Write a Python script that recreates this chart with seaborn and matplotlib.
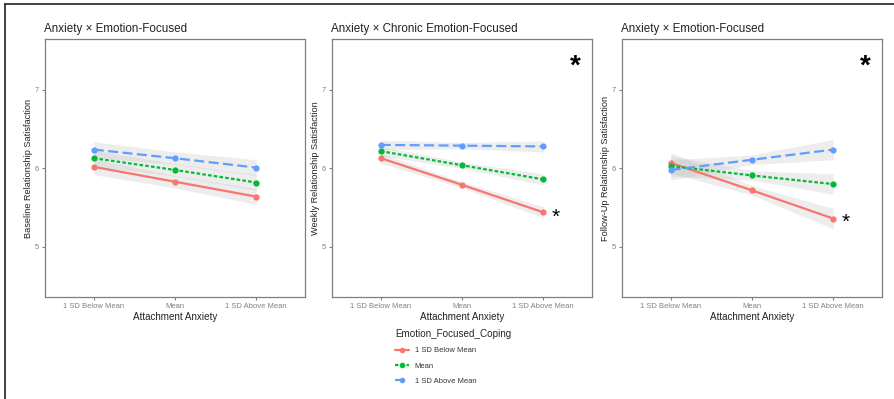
import numpy as np
import pandas as pd
import matplotlib.pyplot as plt
import matplotlib.lines as mlines
import seaborn as sns

# x categories and coping levels
anxiety_levels = ['1 SD Below Mean', 'Mean', '1 SD Above Mean']
coping_levels = ['1 SD Below Mean', 'Mean', '1 SD Above Mean']

titles = ['Anxiety \u00d7 Emotion-Focused',
          'Anxiety \u00d7 Chronic Emotion-Focused',
          'Anxiety \u00d7 Emotion-Focused']
ylabels = ['Baseline Relationship Satisfaction',
           'Weekly Relationship Satisfaction',
           'Follow-Up Relationship Satisfaction']

# estimated means, one list per coping level (low, mean, high)
baseline_low = [6.02, 5.83, 5.64]
baseline_mid = [6.13, 5.98, 5.82]
baseline_high = [6.24, 6.13, 6.01]
weekly_low = [6.13, 5.79, 5.44]
weekly_mid = [6.22, 6.04, 5.86]
weekly_high = [6.30, 6.29, 6.28]
followup_low = [6.07, 5.72, 5.36]
followup_mid = [6.03, 5.91, 5.80]
followup_high = [5.98, 6.11, 6.24]

# half-widths of the confidence ribbons
baseline_ci = [0.1, 0.08, 0.1]
weekly_ci = [0.06, 0.04, 0.07]
followup_ci = [0.13, 0.06, 0.13]

# significance stars: panel flag, point star (x, y)
big_star = [False, True, True]
small_star = [None, (2.15, 5.43), (2.15, 5.36)]

panels = [
    (baseline_low, baseline_mid, baseline_high, baseline_ci),
    (weekly_low, weekly_mid, weekly_high, weekly_ci),
    (followup_low, followup_mid, followup_high, followup_ci),
]

palette = ['#F8766D', '#00BA38', '#619CFF']
dashes = [(None, None), (1.6, 1.0), (4.5, 2.0)]

sns.set_theme(style='white')
plt.rcParams['font.family'] = ['Liberation Sans', 'DejaVu Sans']

fig = plt.figure(figsize=(8.95, 3.99), dpi=100)
W, H = 895, 399
lefts = [45, 332, 622]
ax_w, top, bottom = 260, 39, 297

for i, (low, mid, high, ci) in enumerate(panels):
    ax = fig.add_axes([lefts[i] / W, 1 - bottom / H, ax_w / W, (bottom - top) / H])
    rows = []
    for lvl, vals in zip(coping_levels, [low, mid, high]):
        for x, v in enumerate(vals):
            rows.append({'x': x, 'y': v, 'coping': lvl})
    df = pd.DataFrame(rows)
    x = np.arange(3)
    for vals in [low, mid, high]:
        v = np.array(vals)
        ax.fill_between(x, v - np.array(ci), v + np.array(ci),
                        color='#bdbdbd', alpha=0.27, lw=0, zorder=1)
    for lvl, col, ds in zip(coping_levels, palette, dashes):
        sub = df[df['coping'] == lvl]
        line = sns.lineplot(data=sub, x='x', y='y', ax=ax, color=col,
                            lw=1.6, marker='o', markersize=4.5,
                            markeredgewidth=0, legend=False, zorder=3)
        if ds[0] is not None:
            line.lines[-1].set_dashes(ds)

    ax.set_xlim(-0.6, 2.6)
    ax.set_ylim(4.36, 7.65)
    ax.set_xticks(x)
    ax.set_xticklabels(anxiety_levels)
    ax.set_yticks([5, 6, 7])
    ax.tick_params(axis='both', labelsize=5.5, colors='#7f7f7f', length=2.5,
                   width=0.8, pad=2, left=True, bottom=True)
    for lab in ax.get_xticklabels() + ax.get_yticklabels():
        lab.set_color('#808080')
    for s in ax.spines.values():
        s.set_color('#7f7f7f')
        s.set_linewidth(0.9)
    ax.set_xlabel('Attachment Anxiety', fontsize=7.1, labelpad=1, color='#222222')
    ax.set_ylabel(ylabels[i], fontsize=6.6, labelpad=1, color='#222222')
    ax.set_title(titles[i], fontsize=8.4, loc='left', x=-0.005, pad=5, color='#222222')
    if big_star[i]:
        ax.text(2.39, 7.3, '*', fontsize=20, ha='center', va='center',
                fontweight='bold', color='black')
    if small_star[i] is not None:
        sx, sy = small_star[i]
        ax.text(sx, sy - 0.05, '*', fontsize=15, ha='center', va='center',
                color='black')

# legend below the middle panel
handles = []
for lvl, col, ds in zip(coping_levels, palette, dashes):
    h = mlines.Line2D([], [], color=col, lw=1.6, marker='o', markersize=4,
                      markeredgewidth=0)
    if ds[0] is not None:
        h.set_dashes(ds)
    handles.append(h)
leg = fig.legend(handles, coping_levels, title='Emotion_Focused_Coping',
                 loc='upper left', bbox_to_anchor=(388 / W, 1 - 322 / H),
                 frameon=False, fontsize=5.5, title_fontsize=7.1,
                 handlelength=1.8, labelspacing=1.05, alignment='left')
for t in leg.get_texts():
    t.set_color('#333333')

# outer frame (top and left edges visible in the reference)
fig.add_artist(mlines.Line2D([5 / W, 5 / W], [0, 1 - 4 / H], color='#222222',
                             lw=1.2, transform=fig.transFigure))
fig.add_artist(mlines.Line2D([5 / W, 1], [1 - 4 / H, 1 - 4 / H], color='#222222',
                             lw=1.2, transform=fig.transFigure))

fig.savefig('out.png', dpi=100)
